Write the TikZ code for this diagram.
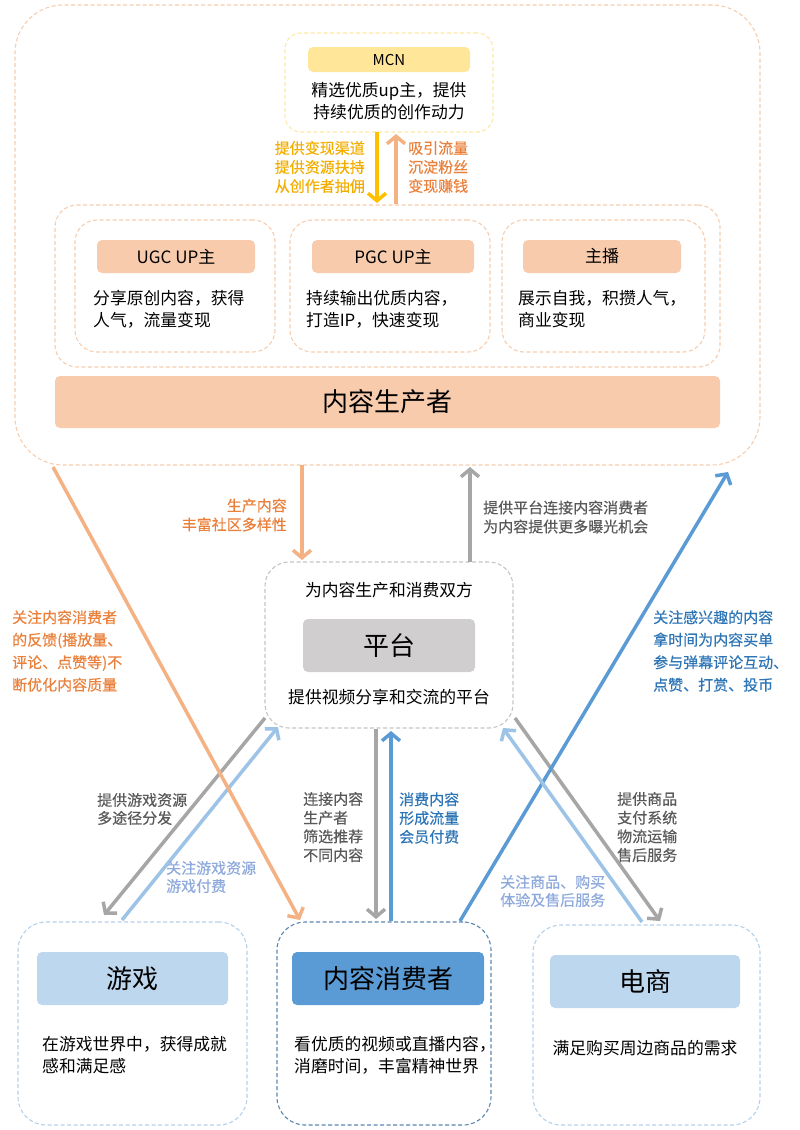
\documentclass[tikz,border=0pt]{standalone}
\usepackage{fontspec}
\setmainfont{Noto Sans CJK SC}
\newfontfamily\lab[FakeBold=0.4]{Noto Sans CJK SC}
\usetikzlibrary{arrows.meta,calc}
\definecolor{orLine}{HTML}{F4B183}
\definecolor{orDash}{HTML}{F6CDAE}
\definecolor{salmon}{HTML}{F8CBAD}
\definecolor{gold}{HTML}{FFC000}
\definecolor{goldText}{HTML}{F2AE00}
\definecolor{orText}{HTML}{E9813C}
\definecolor{mcnBar}{HTML}{FFE699}
\definecolor{mcnDash}{HTML}{FFE8A3}
\definecolor{grLine}{HTML}{A6A6A6}
\definecolor{grBar}{HTML}{D0CECE}
\definecolor{grDash}{HTML}{C4C4C4}
\definecolor{grText}{HTML}{595959}
\definecolor{blLine}{HTML}{5B9BD5}
\definecolor{lbLine}{HTML}{9DC3E6}
\definecolor{blText}{HTML}{2E75B6}
\definecolor{lbText}{HTML}{8EA9DB}
\definecolor{blBar}{HTML}{5B9BD5}
\definecolor{lbBar}{HTML}{BDD7EE}
\definecolor{lbDash}{HTML}{B4D0EA}
\definecolor{blDash}{HTML}{5B86B0}
\tikzset{
  dbox/.style={draw, dash pattern=on 4pt off 2.5pt, line width=1.1pt, rounded corners=#1, inner sep=0pt},
  dbox/.default=20pt,
  bar/.style={rounded corners=5pt, inner sep=0pt, text=black},
  body/.style={font=\fontsize{16.8}{22}\selectfont, align=left, inner sep=0pt},
  big/.style={font=\fontsize{26}{30}\selectfont},
  mid/.style={font=\fontsize{17}{20}\selectfont},
  lbl/.style={font=\lab\fontsize{15}{19}\selectfont, inner sep=0pt},
  arr/.style={line width=3.5pt, -{Straight Barb[length=7.5pt,width=18pt]}},
}
\begin{document}
\begin{tikzpicture}[x=1pt,y=-1pt]
\useasboundingbox (0,0) rectangle (800,1130);
% producer area
\node[dbox=48pt, draw=orDash, minimum width=745pt, minimum height=460pt] (prod) at (387.5,235) {};
\node[dbox=16pt, draw=mcnDash, minimum width=208pt, minimum height=99pt] (mcn) at (389,82.5) {};
\node[bar, fill=mcnBar, minimum width=162pt, minimum height=25pt, font=\fontsize{15}{18}\selectfont] (mcnbar) at (389,59.5) {MCN};
\node[body, align=center] (mcntext) at (389,101) {精选优质up主，提供\\持续优质的创作动力};
\node[dbox=22pt, draw=orDash, minimum width=665pt, minimum height=162pt] (inner) at (387.5,286) {};
\node[dbox=22pt, draw=orDash, minimum width=200pt, minimum height=132pt] (ugc) at (175,286) {};
\node[dbox=22pt, draw=orDash, minimum width=200pt, minimum height=132pt] (pgc) at (390,286) {};
\node[dbox=22pt, draw=orDash, minimum width=203pt, minimum height=132pt] (anchor) at (603.5,286) {};
\node[bar, fill=salmon, minimum width=158pt, minimum height=33pt, mid] (ugcbar) at (176,256.5) {UGC UP主};
\node[bar, fill=salmon, minimum width=162pt, minimum height=33pt, mid] (pgcbar) at (393,256.5) {PGC UP主};
\node[bar, fill=salmon, minimum width=158pt, minimum height=33pt, mid] (anchorbar) at (602,256.5) {主播};
\node[body, anchor=west] (ugctext) at (93,309) {分享原创内容，获得\\人气，流量变现};
\node[body, anchor=west] (pgctext) at (306,309) {持续输出优质内容，\\打造IP，快速变现};
\node[body, anchor=west] (anchortext) at (518,309) {展示自我，积攒人气，\\商业变现};
\node[bar, fill=salmon, minimum width=665pt, minimum height=52pt, big] (prodbar) at (387.5,402) {内容生产者};
% platform
\node[dbox=24pt, draw=grDash, minimum width=248pt, minimum height=166pt] (plat) at (389,645) {};
\node[body, align=center] (plattop) at (389,590) {为内容生产和消费双方};
\node[bar, fill=grBar, minimum width=172pt, minimum height=53pt, big] (platbar) at (389,645.5) {平台};
\node[body, align=center] (platbot) at (389,697) {提供视频分享和交流的平台};
% bottom boxes
\node[dbox=28pt, draw=lbDash, minimum width=229pt, minimum height=203pt] (game) at (132.5,1023.5) {};
\node[dbox=28pt, draw=blDash, minimum width=214pt, minimum height=203pt] (cons) at (384,1023.5) {};
\node[dbox=28pt, draw=lbDash, minimum width=227pt, minimum height=200pt] (ecom) at (646.5,1025) {};
\node[bar, fill=lbBar, minimum width=191pt, minimum height=53pt, big] (gamebar) at (132.5,978.5) {游戏};
\node[bar, fill=blBar, minimum width=192pt, minimum height=53pt, big] (consbar) at (388,978.5) {内容消费者};
\node[bar, fill=lbBar, minimum width=190pt, minimum height=53pt, big] (ecombar) at (645,981.5) {电商};
\node[body, anchor=west] (gametext) at (42,1055) {在游戏世界中，获得成就\\感和满足感};
\node[body, anchor=west] (constext) at (294,1055) {看优质的视频或直播内容，\\消磨时间，丰富精神世界};
\node[body, align=center] (ecomtext) at (645,1048) {满足购买周边商品的需求};
% arrow endpoints
\coordinate (a1s) at (377,132); \coordinate (a1e) at (377,203);
\coordinate (a2s) at (396,204); \coordinate (a2e) at (396,134);
\coordinate (a3s) at (302,465); \coordinate (a3e) at (302,560);
\coordinate (a4s) at (470,562); \coordinate (a4e) at (470,467);
\coordinate (a5s) at (53,467);  \coordinate (a5e) at (300,920);
\coordinate (a6s) at (460,921); \coordinate (a6e) at (728,472);
\coordinate (a7s) at (265,718); \coordinate (a7e) at (104,915);
\coordinate (a8s) at (122,920); \coordinate (a8e) at (278,727);
\coordinate (a9s) at (376,729); \coordinate (a9e) at (376,919);
\coordinate (a10s) at (391,921); \coordinate (a10e) at (391,731);
\coordinate (a11s) at (515,718); \coordinate (a11e) at (660,921);
\coordinate (a12s) at (642,922); \coordinate (a12e) at (503,728);
% arrows
\draw[arr, gold] (a1s) -- (a1e);
\draw[arr, orLine] (a2s) -- (a2e);
\draw[arr, orLine] (a3s) -- (a3e);
\draw[arr, grLine] (a4s) -- (a4e);
\draw[arr, grLine] (a7s) -- (a7e);
\draw[arr, lbLine] (a8s) -- (a8e);
\draw[arr, grLine] (a9s) -- (a9e);
\draw[arr, blLine] (a10s) -- (a10e);
\draw[arr, grLine] (a11s) -- (a11e);
\draw[arr, blLine] (a6s) -- (a6e);
\draw[arr, lbLine] (a12s) -- (a12e);
\draw[arr, orLine] (a5s) -- (a5e);
% labels
\node[lbl, text=goldText, anchor=east, align=right] (l1) at (365,167) {提供变现渠道\\提供资源扶持\\从创作者抽佣};
\node[lbl, text=orText, anchor=west, align=left] (l2) at (408,167) {吸引流量\\沉淀粉丝\\变现赚钱};
\node[lbl, text=orText, anchor=east, align=right] (l3) at (287,515) {生产内容\\丰富社区多样性};
\node[lbl, text=grText, anchor=west, align=left] (l4) at (483,517) {提供平台连接内容消费者\\为内容提供更多曝光机会};
\node[lbl, text=orText, anchor=west, align=left, font=\lab\fontsize{15}{22.5}\selectfont] (l5) at (12,651) {关注内容消费者\\的反馈(播放量、\\评论、点赞等)不\\断优化内容质量};
\node[lbl, text=blText, anchor=west, align=left, font=\lab\fontsize{15}{22.5}\selectfont] (l6) at (653,651) {关注感兴趣的内容\\拿时间为内容买单\\参与弹幕评论互动、\\点赞、打赏、投币};
\node[lbl, text=grText, anchor=west, align=left, font=\lab\fontsize{15}{18}\selectfont] (l7) at (97,809) {提供游戏资源\\多途径分发};
\node[lbl, text=lbText, anchor=west, align=left, font=\lab\fontsize{15}{18}\selectfont] (l8) at (166,877) {关注游戏资源\\游戏付费};
\node[lbl, text=grText, anchor=west, align=left, font=\lab\fontsize{15}{18.7}\selectfont] (l9) at (303,827) {连接内容\\生产者\\筛选推荐\\不同内容};
\node[lbl, text=blText, anchor=west, align=left, font=\lab\fontsize{15}{18.7}\selectfont] (l10) at (399,818) {消费内容\\形成流量\\会员付费};
\node[lbl, text=grText, anchor=west, align=left, font=\lab\fontsize{15}{18.7}\selectfont] (l11) at (617,827) {提供商品\\支付系统\\物流运输\\售后服务};
\node[lbl, text=lbText, anchor=west, align=left, font=\lab\fontsize{15}{18}\selectfont] (l12) at (500,891) {关注商品、购买\\体验及售后服务};
\end{tikzpicture}
\end{document}
